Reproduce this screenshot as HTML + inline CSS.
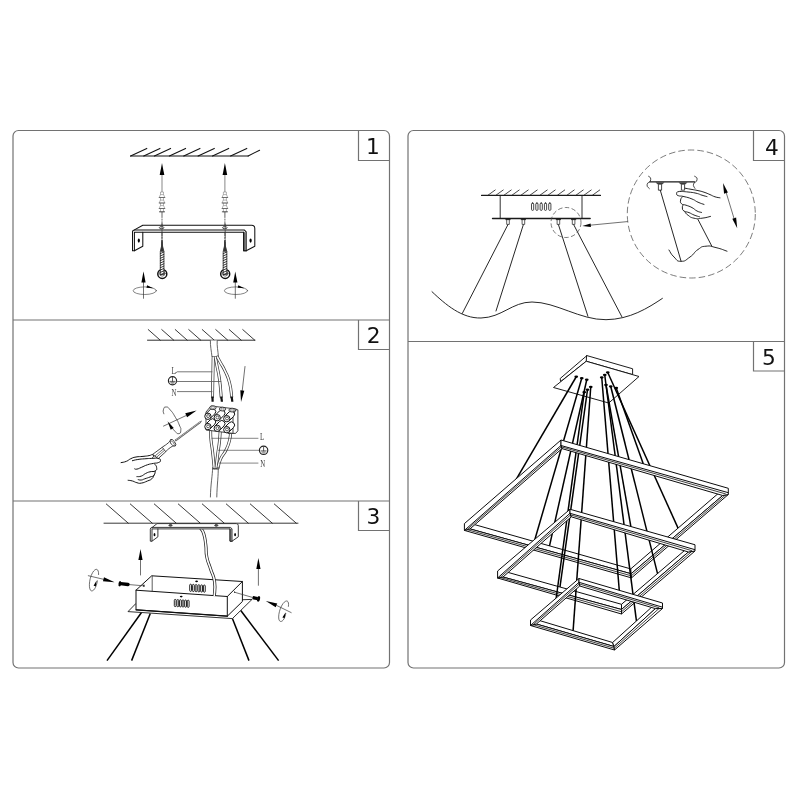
<!DOCTYPE html>
<html lang="en"><head><meta charset="utf-8"><title>Installation steps</title>
<style>
html,body{margin:0;padding:0;background:#fff;}
svg{display:block;}
.frame *{fill:none;stroke:#727272;stroke-width:1.2;}
text{filter:grayscale(1);}
.num{font-family:"DejaVu Sans","Liberation Sans",sans-serif;font-size:21.7px;text-anchor:middle;fill:#111;}
.lbl{font-family:"Liberation Serif","DejaVu Serif",serif;font-size:11.4px;fill:#444;}
.l{fill:none;stroke:#1a1a1a;stroke-width:0.9;stroke-linecap:round;stroke-linejoin:round;}
.t{fill:none;stroke:#333;stroke-width:0.6;stroke-linecap:round;stroke-linejoin:round;}
.h{fill:none;stroke:#111;stroke-width:0.8;}
.k{fill:none;stroke:#000;stroke-width:1.5;stroke-linecap:round;stroke-linejoin:round;}
.w{fill:#fff;stroke:#1a1a1a;stroke-width:0.9;stroke-linejoin:round;}
.wt{fill:#fff;stroke:#0c0c0c;stroke-width:1;stroke-linejoin:round;}
.fill{fill:#000;stroke:none;}
.dash{fill:none;stroke:#444;stroke-width:0.7;stroke-dasharray:5 2.5;}
</style></head>
<body>
<svg width="800" height="800" viewBox="0 0 800 800">
<rect x="0" y="0" width="800" height="800" fill="#fff"/>
<g id="frame">
<g class="frame">
<rect x="13" y="130.5" width="376.5" height="537.5" rx="5.5" ry="5.5"/>
<rect x="408" y="130.5" width="376.5" height="537.5" rx="5.5" ry="5.5"/>
<line x1="13" y1="320" x2="389.5" y2="320"/>
<line x1="13" y1="501" x2="389.5" y2="501"/>
<line x1="408" y1="341.5" x2="784.5" y2="341.5"/>
<path d="M358.5 130.5 L358.5 160.5 L389.5 160.5"/>
<path d="M358.5 320 L358.5 349.5 L389.5 349.5"/>
<path d="M358.5 501 L358.5 530.5 L389.5 530.5"/>
<path d="M753.5 130.5 L753.5 160.5 L784.5 160.5"/>
<path d="M753.5 341.5 L753.5 371 L784.5 371"/>
</g>
<text class="num" x="373" y="154.2">1</text>
<text class="num" x="373.7" y="343.2">2</text>
<text class="num" x="373.3" y="524.2">3</text>
<text class="num" x="771.9" y="154.5">4</text>
<text class="num" x="768.8" y="364.8">5</text>
</g>
<g id="p1">
<line x1="130.6" y1="156" x2="248.2" y2="156" class="l" style="stroke-width:1.15;stroke:#111"/>
<line x1="130.6" y1="156" x2="146.8" y2="148.4" class="l" style="stroke-width:1.05;stroke:#111"/>
<line x1="143.75" y1="156" x2="159.95" y2="148.4" class="l" style="stroke-width:1.05;stroke:#111"/>
<line x1="154.4" y1="156" x2="170.6" y2="148.4" class="l" style="stroke-width:1.05;stroke:#111"/>
<line x1="169.4" y1="156" x2="185.6" y2="148.4" class="l" style="stroke-width:1.05;stroke:#111"/>
<line x1="183.75" y1="156" x2="199.95" y2="148.4" class="l" style="stroke-width:1.05;stroke:#111"/>
<line x1="198.1" y1="156" x2="214.3" y2="148.4" class="l" style="stroke-width:1.05;stroke:#111"/>
<line x1="212.5" y1="156" x2="228.7" y2="148.4" class="l" style="stroke-width:1.05;stroke:#111"/>
<line x1="230.6" y1="156" x2="246.8" y2="148.4" class="l" style="stroke-width:1.05;stroke:#111"/>
<line x1="248.1" y1="156" x2="259.6" y2="150.2" class="l" style="stroke-width:1.05;stroke:#111"/>
<line x1="162" y1="175" x2="162" y2="192" class="t" style="stroke:#555;stroke-width:.7"/>
<path d="M162 163 L164.3 175 L162 175 L159.7 175Z" class="fill"/>
<line x1="162" y1="212.5" x2="162" y2="247" class="t" style="stroke:#333;stroke-width:.75;stroke-dasharray:5 1.5 1.2 1.5"/>
<line x1="224.9" y1="175" x2="224.9" y2="192" class="t" style="stroke:#555;stroke-width:.7"/>
<path d="M224.9 163 L227.2 175 L224.9 175 L222.6 175Z" class="fill"/>
<line x1="224.9" y1="212.5" x2="224.9" y2="247" class="t" style="stroke:#333;stroke-width:.75;stroke-dasharray:5 1.5 1.2 1.5"/>
<path d="M134.4 229.9 L142.8 225.3 L251.6 225.3 Q254.8 225.3 254.8 228.4 L254.8 246.3 L246.2 250.7 L243.7 250.7 L243.7 232.3 L135 232.3 L134.4 232.3 L134.4 250.7 L132.5 250.7 L132.5 232 Q132.5 229.9 134.4 229.9 Z" class="w" style="stroke:#111;stroke-width:1.05"/>
<path d="M134.4 229.9 L244.2 229.9 L246.2 231.8 L246.2 250.7" class="l" style="stroke:#111;stroke-width:1.05"/>
<path d="M243.7 232.3 L246.2 232.3 L246.2 250.7 L243.7 250.7Z" class="fill" style="fill:#777"/>
<path d="M243.7 232.3 L243.7 250.7 L246.2 250.7" class="l" style="stroke:#111;stroke-width:1.05"/>
<path d="M134.4 250.7 L142.8 246.3 L142.8 232.3" class="l" style="stroke:#111;stroke-width:1.05"/>
<ellipse cx="138.8" cy="240.6" rx="1.1" ry="2.1" class="fill"/>
<ellipse cx="250.6" cy="240.6" rx="1.1" ry="2.1" class="fill"/>
<ellipse cx="161.6" cy="227.7" rx="2.3" ry="1.1" class="w" style="stroke:#222;stroke-width:.8"/>
<line x1="162" y1="224" x2="162" y2="247" class="t" style="stroke:#333;stroke-width:.75;stroke-dasharray:5 1.5 1.2 1.5"/>
<ellipse cx="224.8" cy="227.7" rx="2.3" ry="1.1" class="w" style="stroke:#222;stroke-width:.8"/>
<line x1="225.2" y1="224" x2="225.2" y2="247" class="t" style="stroke:#333;stroke-width:.75;stroke-dasharray:5 1.5 1.2 1.5"/>
<rect x="160.5" y="192" width="3" height="20" class="w" style="stroke:#777;stroke-width:.55"/>
<path d="M160.4 194.6 L163.6 194.6 L164.8 197.5 L159.2 197.5Z" class="w" style="stroke:#777;stroke-width:.55"/>
<line x1="159.2" y1="197.5" x2="164.8" y2="197.5" class="l" style="stroke:#555;stroke-width:.75"/>
<path d="M160.4 200.1 L163.6 200.1 L164.8 203 L159.2 203Z" class="w" style="stroke:#777;stroke-width:.55"/>
<line x1="159.2" y1="203" x2="164.8" y2="203" class="l" style="stroke:#555;stroke-width:.75"/>
<path d="M160.4 205.6 L163.6 205.6 L164.8 208.5 L159.2 208.5Z" class="w" style="stroke:#777;stroke-width:.55"/>
<line x1="159.2" y1="208.5" x2="164.8" y2="208.5" class="l" style="stroke:#555;stroke-width:.75"/>
<line x1="159.4" y1="211.8" x2="164.6" y2="211.8" class="l" style="stroke:#444;stroke-width:.9"/>
<circle cx="162.3" cy="273.9" r="4.5" class="w" style="stroke:#111;stroke-width:1.5"/>
<circle cx="162.3" cy="273.4" r="2.7" class="l" style="stroke:#333;stroke-width:.7"/>
<path d="M162 240.5 L162.5 246 L163.9 251.5 L163.9 274.5 L160.3 274.5 L160.3 251.5 L161.6 246Z" class="w" style="stroke:#222;stroke-width:.8"/>
<line x1="160.3" y1="253.6" x2="163.9" y2="252" class="l" style="stroke:#222;stroke-width:.9"/>
<line x1="160.3" y1="255.95" x2="163.9" y2="254.35" class="l" style="stroke:#222;stroke-width:.9"/>
<line x1="160.3" y1="258.3" x2="163.9" y2="256.7" class="l" style="stroke:#222;stroke-width:.9"/>
<line x1="160.3" y1="260.65" x2="163.9" y2="259.05" class="l" style="stroke:#222;stroke-width:.9"/>
<line x1="160.3" y1="263" x2="163.9" y2="261.4" class="l" style="stroke:#222;stroke-width:.9"/>
<line x1="160.3" y1="265.35" x2="163.9" y2="263.75" class="l" style="stroke:#222;stroke-width:.9"/>
<line x1="160.3" y1="267.7" x2="163.9" y2="266.1" class="l" style="stroke:#222;stroke-width:.9"/>
<line x1="160.3" y1="270.05" x2="163.9" y2="268.45" class="l" style="stroke:#222;stroke-width:.9"/>
<line x1="160.3" y1="272.4" x2="163.9" y2="270.8" class="l" style="stroke:#222;stroke-width:.9"/>
<line x1="160.3" y1="274.75" x2="163.9" y2="273.15" class="l" style="stroke:#222;stroke-width:.9"/>
<path d="M162 240 L162.7 246 L163.9 251.8 L160.3 251.8 L161.4 246Z" class="fill" style="fill:#333"/>
<rect x="223.4" y="192" width="3" height="20" class="w" style="stroke:#777;stroke-width:.55"/>
<path d="M223.3 194.6 L226.5 194.6 L227.7 197.5 L222.1 197.5Z" class="w" style="stroke:#777;stroke-width:.55"/>
<line x1="222.1" y1="197.5" x2="227.7" y2="197.5" class="l" style="stroke:#555;stroke-width:.75"/>
<path d="M223.3 200.1 L226.5 200.1 L227.7 203 L222.1 203Z" class="w" style="stroke:#777;stroke-width:.55"/>
<line x1="222.1" y1="203" x2="227.7" y2="203" class="l" style="stroke:#555;stroke-width:.75"/>
<path d="M223.3 205.6 L226.5 205.6 L227.7 208.5 L222.1 208.5Z" class="w" style="stroke:#777;stroke-width:.55"/>
<line x1="222.1" y1="208.5" x2="227.7" y2="208.5" class="l" style="stroke:#555;stroke-width:.75"/>
<line x1="222.3" y1="211.8" x2="227.5" y2="211.8" class="l" style="stroke:#444;stroke-width:.9"/>
<circle cx="225.2" cy="273.9" r="4.5" class="w" style="stroke:#111;stroke-width:1.5"/>
<circle cx="225.2" cy="273.4" r="2.7" class="l" style="stroke:#333;stroke-width:.7"/>
<path d="M224.9 240.5 L225.4 246 L226.8 251.5 L226.8 274.5 L223.2 274.5 L223.2 251.5 L224.5 246Z" class="w" style="stroke:#222;stroke-width:.8"/>
<line x1="223.2" y1="253.6" x2="226.8" y2="252" class="l" style="stroke:#222;stroke-width:.9"/>
<line x1="223.2" y1="255.95" x2="226.8" y2="254.35" class="l" style="stroke:#222;stroke-width:.9"/>
<line x1="223.2" y1="258.3" x2="226.8" y2="256.7" class="l" style="stroke:#222;stroke-width:.9"/>
<line x1="223.2" y1="260.65" x2="226.8" y2="259.05" class="l" style="stroke:#222;stroke-width:.9"/>
<line x1="223.2" y1="263" x2="226.8" y2="261.4" class="l" style="stroke:#222;stroke-width:.9"/>
<line x1="223.2" y1="265.35" x2="226.8" y2="263.75" class="l" style="stroke:#222;stroke-width:.9"/>
<line x1="223.2" y1="267.7" x2="226.8" y2="266.1" class="l" style="stroke:#222;stroke-width:.9"/>
<line x1="223.2" y1="270.05" x2="226.8" y2="268.45" class="l" style="stroke:#222;stroke-width:.9"/>
<line x1="223.2" y1="272.4" x2="226.8" y2="270.8" class="l" style="stroke:#222;stroke-width:.9"/>
<line x1="223.2" y1="274.75" x2="226.8" y2="273.15" class="l" style="stroke:#222;stroke-width:.9"/>
<path d="M224.9 240 L225.6 246 L226.8 251.8 L223.2 251.8 L224.3 246Z" class="fill" style="fill:#333"/>
<ellipse cx="144.8" cy="290.7" rx="11.6" ry="3.8" class="t" style="stroke:#444;stroke-width:.65"/>
<line x1="143.5" y1="282" x2="143.5" y2="298.3" class="t" style="stroke:#333;stroke-width:.7"/>
<path d="M143.5 271.6 L145.6 282.4 L143.5 282.4 L141.4 282.4Z" class="fill"/>
<path d="M153.2 288.2 L146.48 287.86 L146.8 286.6 L147.11 285.34Z" class="fill"/>
<ellipse cx="236" cy="290.7" rx="11.6" ry="3.8" class="t" style="stroke:#444;stroke-width:.65"/>
<line x1="235.3" y1="282" x2="235.3" y2="298.3" class="t" style="stroke:#333;stroke-width:.7"/>
<path d="M235.3 271.6 L237.4 282.4 L235.3 282.4 L233.2 282.4Z" class="fill"/>
<path d="M244.4 288.2 L237.68 287.86 L238 286.6 L238.31 285.34Z" class="fill"/>
</g>
<g id="p2">
<line x1="147.5" y1="340.2" x2="255" y2="340.2" class="l" style="stroke-width:.95;stroke:#222"/>
<line x1="148.25" y1="329.6" x2="160.25" y2="340.2" class="l" style="stroke-width:.9;stroke:#222"/>
<line x1="161.75" y1="329.6" x2="173.75" y2="340.2" class="l" style="stroke-width:.9;stroke:#222"/>
<line x1="175.25" y1="329.6" x2="187.25" y2="340.2" class="l" style="stroke-width:.9;stroke:#222"/>
<line x1="188.75" y1="329.6" x2="200.75" y2="340.2" class="l" style="stroke-width:.9;stroke:#222"/>
<line x1="202.25" y1="329.6" x2="214.25" y2="340.2" class="l" style="stroke-width:.9;stroke:#222"/>
<line x1="215.75" y1="329.6" x2="227.75" y2="340.2" class="l" style="stroke-width:.9;stroke:#222"/>
<line x1="229.25" y1="329.6" x2="241.25" y2="340.2" class="l" style="stroke-width:.9;stroke:#222"/>
<line x1="242.75" y1="329.6" x2="254.75" y2="340.2" class="l" style="stroke-width:.9;stroke:#222"/>
<path d="M210.4 340.4 C210.2 346 211.4 351 212 357 C214 358.2 216.6 357.8 218.4 356.4 C218 351 216.8 346 217.2 340.4" class="w" style="stroke:#333;stroke-width:.75"/>
<path d="M213.2 357.4 C213.14 361.18 213.15 361.72 213 370 C212.85 378.28 212.85 376.9 212.7 385 C212.55 393.1 212.56 393.4 212.5 397" class="l" style="stroke:#333;stroke-width:3.0"/>
<path d="M213.2 357.4 C213.14 361.18 213.15 361.72 213 370 C212.85 378.28 212.85 376.9 212.7 385 C212.55 393.1 212.56 393.4 212.5 397" class="l" style="stroke:#fff;stroke-width:1.6"/>
<path d="M215.4 357.4 C215.88 359.98 215.74 359.22 217 366 C218.26 372.78 218.34 370.7 219.6 380 C220.86 389.3 220.72 391.9 221.2 397" class="l" style="stroke:#333;stroke-width:3.0"/>
<path d="M215.4 357.4 C215.88 359.98 215.74 359.22 217 366 C218.26 372.78 218.34 370.7 219.6 380 C220.86 389.3 220.72 391.9 221.2 397" class="l" style="stroke:#fff;stroke-width:1.6"/>
<path d="M217.4 357 C218.36 358.8 218.32 358.8 220.6 363 C222.88 367.2 222.3 365 225 371 C227.7 377 227.59 375.2 229.6 383 C231.61 390.8 231.07 392.8 231.7 397" class="l" style="stroke:#333;stroke-width:3.0"/>
<path d="M217.4 357 C218.36 358.8 218.32 358.8 220.6 363 C222.88 367.2 222.3 365 225 371 C227.7 377 227.59 375.2 229.6 383 C231.61 390.8 231.07 392.8 231.7 397" class="l" style="stroke:#fff;stroke-width:1.6"/>
<path d="M211.4 396.6 L213.6 396.6 L213.7 401.8 L211.5 401.8Z" class="fill" style="fill:#111"/>
<path d="M220.2 396.6 L222.4 396.6 L223 401.8 L220.8 401.8Z" class="fill" style="fill:#111"/>
<path d="M230.6 396.6 L232.8 396.6 L233.4 401.8 L231.2 401.8Z" class="fill" style="fill:#111"/>
<text class="lbl" transform="translate(171.6 373.8) scale(.6 1)">L</text>
<path d="M175.2 373.4 L177.2 371.8 L212 371.8" class="t" style="stroke:#555;stroke-width:.8"/>
<circle cx="172.5" cy="380.8" r="4.1" class="w" style="stroke:#222;stroke-width:1.15"/>
<line x1="172.5" y1="377.5" x2="172.5" y2="381.4" class="l" style="stroke:#333;stroke-width:.8"/>
<line x1="169.9" y1="381.4" x2="175.1" y2="381.4" class="l" style="stroke:#333;stroke-width:.8"/>
<line x1="170.8" y1="382.6" x2="174.2" y2="382.6" class="l" style="stroke:#333;stroke-width:.6"/>
<line x1="171.7" y1="383.7" x2="173.3" y2="383.7" class="l" style="stroke:#333;stroke-width:.5"/>
<line x1="176.6" y1="381.5" x2="220.8" y2="381.5" class="t" style="stroke:#555;stroke-width:.8"/>
<text class="lbl" transform="translate(171.4 395.5) scale(.6 1)">N</text>
<line x1="177.4" y1="391.6" x2="212" y2="391.6" class="t" style="stroke:#555;stroke-width:.8"/>
<line x1="245" y1="366.5" x2="242.2" y2="391" class="t" style="stroke:#333;stroke-width:.7"/>
<path d="M241 402 L240.33 390.35 L242.31 390.58 L244.3 390.8Z" class="fill"/>
<path d="M210.6 431 C210.72 433.7 210.4 433.7 211 440 C211.6 446.3 211.64 443.6 212.6 452 C213.56 460.4 213.72 463.2 214.2 468" class="l" style="stroke:#333;stroke-width:3.0"/>
<path d="M210.6 431 C210.72 433.7 210.4 433.7 211 440 C211.6 446.3 211.64 443.6 212.6 452 C213.56 460.4 213.72 463.2 214.2 468" class="l" style="stroke:#fff;stroke-width:1.6"/>
<path d="M220.2 431 C219.96 434.3 220.18 434.8 219.4 442 C218.62 449.2 218.56 447.2 217.6 455 C216.64 462.8 216.62 464.1 216.2 468" class="l" style="stroke:#333;stroke-width:3.0"/>
<path d="M220.2 431 C219.96 434.3 220.18 434.8 219.4 442 C218.62 449.2 218.56 447.2 217.6 455 C216.64 462.8 216.62 464.1 216.2 468" class="l" style="stroke:#fff;stroke-width:1.6"/>
<path d="M230.6 431 C230.3 433.7 230.98 434.3 229.6 440 C228.22 445.7 228.7 444.3 226 450 C223.3 455.7 223 453.6 220.6 459 C218.2 464.4 218.78 465.3 218 468" class="l" style="stroke:#333;stroke-width:3.0"/>
<path d="M230.6 431 C230.3 433.7 230.98 434.3 229.6 440 C228.22 445.7 228.7 444.3 226 450 C223.3 455.7 223 453.6 220.6 459 C218.2 464.4 218.78 465.3 218 468" class="l" style="stroke:#fff;stroke-width:1.6"/>
<path d="M212.6 468 C212.6 475 210.6 484 210.4 497 M218.2 467.4 C218.6 475 217 484 216.8 497" class="l" style="stroke:#333;stroke-width:.75"/>
<path d="M212.6 468 C214 469.4 217 469 218.2 467.4" class="l" style="stroke:#333;stroke-width:.75"/>
<path d="M233.6 409.6 L237.9 409.8 L237.9 430.8 L235.6 433.4 L228 433.4 L228 415Z" class="w" style="stroke:#222;stroke-width:.85"/>
<path d="M206 412 L211 406 L236.4 409 L233 415 L233 433.4 L206 430Z" class="w" style="stroke:#222;stroke-width:.85"/>
<path d="M205.67 424.37 L210.27 419.77 A3.15 3.15 0 0 1 214.73 424.23 L210.13 428.83 Z" class="w" style="stroke:#111;stroke-width:1"/>
<circle cx="207.9" cy="426.6" r="3.15" class="w" style="stroke:#111;stroke-width:1"/>
<circle cx="208.1" cy="426.4" r="1.45" class="w" style="stroke:#333;stroke-width:.8"/>
<path d="M214.97 426.07 L219.57 421.47 A3.15 3.15 0 0 1 224.03 425.93 L219.43 430.53 Z" class="w" style="stroke:#111;stroke-width:1"/>
<circle cx="217.2" cy="428.3" r="3.15" class="w" style="stroke:#111;stroke-width:1"/>
<circle cx="217.4" cy="428.1" r="1.45" class="w" style="stroke:#333;stroke-width:.8"/>
<path d="M224.57 427.47 L229.17 422.87 A3.15 3.15 0 0 1 233.63 427.33 L229.03 431.93 Z" class="w" style="stroke:#111;stroke-width:1"/>
<circle cx="226.8" cy="429.7" r="3.15" class="w" style="stroke:#111;stroke-width:1"/>
<circle cx="227" cy="429.5" r="1.45" class="w" style="stroke:#333;stroke-width:.8"/>
<path d="M205.67 414.07 L210.27 409.47 A3.15 3.15 0 0 1 214.73 413.93 L210.13 418.53 Z" class="w" style="stroke:#111;stroke-width:1"/>
<circle cx="207.9" cy="416.3" r="3.15" class="w" style="stroke:#111;stroke-width:1"/>
<circle cx="208.1" cy="416.1" r="1.45" class="w" style="stroke:#333;stroke-width:.8"/>
<path d="M214.97 415.47 L219.57 410.87 A3.15 3.15 0 0 1 224.03 415.33 L219.43 419.93 Z" class="w" style="stroke:#111;stroke-width:1"/>
<circle cx="217.2" cy="417.7" r="3.15" class="w" style="stroke:#111;stroke-width:1"/>
<circle cx="217.4" cy="417.5" r="1.45" class="w" style="stroke:#333;stroke-width:.8"/>
<path d="M224.57 416.47 L229.17 411.87 A3.15 3.15 0 0 1 233.63 416.33 L229.03 420.93 Z" class="w" style="stroke:#111;stroke-width:1"/>
<circle cx="226.8" cy="418.7" r="3.15" class="w" style="stroke:#111;stroke-width:1"/>
<circle cx="227" cy="418.5" r="1.45" class="w" style="stroke:#333;stroke-width:.8"/>
<ellipse cx="212.9" cy="407.7" rx="3.2" ry="1.9" class="w" style="stroke:#222;stroke-width:.85"/>
<ellipse cx="212.9" cy="407.7" rx="1.9" ry="1" class="w" style="stroke:#555;stroke-width:.6"/>
<ellipse cx="222.5" cy="409.1" rx="3.2" ry="1.9" class="w" style="stroke:#222;stroke-width:.85"/>
<ellipse cx="222.5" cy="409.1" rx="1.9" ry="1" class="w" style="stroke:#555;stroke-width:.6"/>
<ellipse cx="232.1" cy="410.1" rx="3.2" ry="1.9" class="w" style="stroke:#222;stroke-width:.85"/>
<ellipse cx="232.1" cy="410.1" rx="1.9" ry="1" class="w" style="stroke:#555;stroke-width:.6"/>
<line x1="212" y1="438.3" x2="258" y2="438.3" class="t" style="stroke:#444;stroke-width:.65"/>
<text class="lbl" transform="translate(260 440.2) scale(.6 1)">L</text>
<line x1="218.4" y1="450.3" x2="259.4" y2="450.3" class="t" style="stroke:#444;stroke-width:.65"/>
<circle cx="263.6" cy="450.3" r="4.2" class="w" style="stroke:#222;stroke-width:1.15"/>
<line x1="263.6" y1="446.9" x2="263.6" y2="450.9" class="l" style="stroke:#333;stroke-width:.8"/>
<line x1="261" y1="450.9" x2="266.2" y2="450.9" class="l" style="stroke:#333;stroke-width:.8"/>
<line x1="261.9" y1="452.1" x2="265.3" y2="452.1" class="l" style="stroke:#333;stroke-width:.6"/>
<line x1="262.8" y1="453.2" x2="264.4" y2="453.2" class="l" style="stroke:#333;stroke-width:.5"/>
<line x1="219.4" y1="463.1" x2="258" y2="463.1" class="t" style="stroke:#444;stroke-width:.65"/>
<text class="lbl" transform="translate(260.2 467.4) scale(.6 1)">N</text>
<path d="M163.9 413.8 C163.73 412.47 162.67 412.07 163.4 409.8 C164.13 407.53 163.8 406.93 166.1 407 C168.4 407.07 167.17 406.5 170.3 410 C173.43 413.5 172.5 412.5 175.5 417.5 C178.5 422.5 177.53 420.73 179.3 425 C181.07 429.27 180.93 427.43 180.8 430.3 C180.67 433.17 180.67 433.1 178.9 433.6 C177.13 434.1 177.6 433.53 175.5 431.8 C173.4 430.07 173.57 429.53 172.6 428.4" class="t" style="stroke:#333;stroke-width:.75"/>
<line x1="163.5" y1="426.1" x2="186.2" y2="415.5" class="t" style="stroke:#333;stroke-width:.7"/>
<path d="M196.6 410.4 L187.07 417.2 L186.15 415.21 L185.23 413.21Z" class="fill"/>
<path d="M167.5 421.2 L173.77 427.9 L172.24 428.85 L170.71 429.8Z" class="fill"/>
<path d="M202.2 420.5 L199.6 421.4 L174.6 439.9 L175.8 441.5 L200.6 423Z" class="fill" style="fill:#555"/>
<line x1="200" y1="422.1" x2="175.4" y2="440.5" class="l" style="stroke:#e8e8e8;stroke-width:.7;stroke-dasharray:1.2 1"/>
<path d="M169.6 441.6 C167.6 443.6 166 444.8 164 446 C163 446.6 162.6 447 162.2 447.3 L152.6 454.4 L158.2 458.6 L165.8 451.7 C166.4 451 167 450 168.4 449 C170 447.8 171.6 446.6 173.4 445.6 Z" class="w" style="stroke:#222;stroke-width:.85"/>
<line x1="163.6" y1="448.8" x2="155" y2="455.9" class="t" style="stroke:#333;stroke-width:.7"/>
<line x1="164.6" y1="450.2" x2="156.6" y2="457.2" class="t" style="stroke:#333;stroke-width:.7"/>
<line x1="162.2" y1="447.3" x2="165.8" y2="451.7" class="t" style="stroke:#333;stroke-width:.7"/>
<ellipse cx="172.9" cy="442.8" rx="1.9" ry="4" transform="rotate(-37 172.9 442.8)" class="w" style="stroke:#222;stroke-width:.85"/>
<ellipse cx="172.3" cy="443.3" rx="1.2" ry="3" transform="rotate(-37 172.3 443.3)" class="w" style="stroke:#333;stroke-width:.6"/>
<path d="M121.1 462.6 C122.69 462.21 123.49 462.47 126.4 461.3 C129.31 460.13 127.92 459.99 130.8 458.7 C133.68 457.41 132.34 457.69 136 457 C139.66 456.31 139.07 456.82 143 456.4 C146.93 455.98 146.34 456.11 149.1 455.6 C151.86 455.09 150.85 454.58 152.2 454.7 C153.55 454.82 153.6 455.04 153.6 456 C153.6 456.96 152.62 457.33 152.2 457.9" class="l" style="stroke:#111;stroke-width:1"/>
<path d="M132 460.8 C133.74 460.41 133.96 460.1 137.8 459.5 C141.64 458.9 140.6 459.13 144.8 458.8 C149 458.47 147.87 458.52 151.8 458.4 C155.73 458.28 155.29 457.8 157.9 458.4 C160.51 459 160.38 459.14 160.5 460.4 C160.62 461.66 160.4 461.7 158.3 462.6 C156.2 463.5 156.77 462.74 153.5 463.4 C150.23 464.06 151.06 463.6 147.4 464.8 C143.74 466 144.45 466.11 141.3 467.4 C138.15 468.69 139 468.71 136.9 469.1 C134.8 469.49 135.08 468.82 134.3 468.7" class="w" style="stroke:#111;stroke-width:1;fill:#fff"/>
<path d="M154.8 464.3 C155.34 465.23 156.45 465.42 156.6 467.4 C156.75 469.38 157.28 469.58 155.3 470.9 C153.32 472.22 152.91 471.02 150 471.8 C147.09 472.58 148.21 472.21 145.6 473.5 C142.99 474.79 143.91 475.17 141.3 476.1 C138.69 477.03 138.22 476.45 136.9 476.6" class="l" style="stroke:#111;stroke-width:1"/>
<path d="M155.3 470.9 C154.88 472.22 155.49 473.47 153.9 475.3 C152.31 477.13 152.73 475.95 150 477 C147.27 478.05 147.41 477.9 144.8 478.8 C142.19 479.7 143.28 479.76 141.3 480 C139.32 480.24 139.13 479.72 138.2 479.6" class="l" style="stroke:#111;stroke-width:1"/>
<path d="M153.9 475.3 C153.27 476.35 153.75 477.09 151.8 478.8 C149.85 480.51 150.55 479.71 147.4 481 C144.25 482.29 144.45 482.59 141.3 483.1 C138.15 483.61 139.54 483.33 136.9 482.7 C134.26 482.07 135.14 481.72 132.5 481 C129.86 480.28 129.42 480.51 128.1 480.3" class="l" style="stroke:#111;stroke-width:1"/>
</g>
<g id="p3">
<line x1="104" y1="523.2" x2="298" y2="523.2" class="l" style="stroke-width:.9;stroke:#222"/>
<line x1="106.3" y1="504" x2="128.3" y2="523.2" class="l" style="stroke-width:.9;stroke:#222"/>
<line x1="130.3" y1="504" x2="152.3" y2="523.2" class="l" style="stroke-width:.9;stroke:#222"/>
<line x1="154.3" y1="504" x2="176.3" y2="523.2" class="l" style="stroke-width:.9;stroke:#222"/>
<line x1="178.3" y1="504" x2="200.3" y2="523.2" class="l" style="stroke-width:.9;stroke:#222"/>
<line x1="202.3" y1="504" x2="224.3" y2="523.2" class="l" style="stroke-width:.9;stroke:#222"/>
<line x1="226.3" y1="504" x2="248.3" y2="523.2" class="l" style="stroke-width:.9;stroke:#222"/>
<line x1="250.3" y1="504" x2="272.3" y2="523.2" class="l" style="stroke-width:.9;stroke:#222"/>
<line x1="274.3" y1="504" x2="296.3" y2="523.2" class="l" style="stroke-width:.9;stroke:#222"/>
<line x1="141.5" y1="612.5" x2="107" y2="660.6" class="k" style="stroke-width:1.5;stroke-linecap:butt"/>
<line x1="150.3" y1="613.5" x2="131.6" y2="660.6" class="k" style="stroke-width:1.5;stroke-linecap:butt"/>
<line x1="232.4" y1="618.5" x2="249" y2="660.6" class="k" style="stroke-width:1.5;stroke-linecap:butt"/>
<line x1="240.8" y1="610.5" x2="278.6" y2="660.6" class="k" style="stroke-width:1.5;stroke-linecap:butt"/>
<path d="M128 611.6 L136 603.4 L252 599.4 L232.4 618.6Z" class="w" style="stroke-width:.9"/>
<path d="M151.7 575.8 L242.4 581.5 L242.4 601.5 L227.3 616.2 L136 609.8 L136 590.2Z" class="w" style="stroke:#111;stroke-width:1"/>
<path d="M136 590.2 L227.3 596.5 L242.4 581.5" class="l" style="stroke:#111;stroke-width:1"/>
<line x1="227.3" y1="596.5" x2="227.3" y2="616.2" class="l" style="stroke:#111;stroke-width:1"/>
<line x1="152.2" y1="576.2" x2="152.2" y2="591.2" class="l" style="stroke:#333;stroke-width:.8"/>
<path d="M136 609.8 L227.3 616.2" class="l" style="stroke:#111;stroke-width:1.2"/>
<rect x="189.7" y="584.2" width="1.8" height="7.2" rx=".9" class="w" style="stroke:#111;stroke-width:.9"/>
<rect x="192.45" y="584.37" width="1.8" height="7.2" rx=".9" class="w" style="stroke:#111;stroke-width:.9"/>
<rect x="195.2" y="584.53" width="1.8" height="7.2" rx=".9" class="w" style="stroke:#111;stroke-width:.9"/>
<rect x="197.95" y="584.7" width="1.8" height="7.2" rx=".9" class="w" style="stroke:#111;stroke-width:.9"/>
<rect x="200.7" y="584.86" width="1.8" height="7.2" rx=".9" class="w" style="stroke:#111;stroke-width:.9"/>
<rect x="203.45" y="585.03" width="1.8" height="7.2" rx=".9" class="w" style="stroke:#111;stroke-width:.9"/>
<ellipse cx="196.6" cy="581.4" rx="1.4" ry="0.8" class="fill"/>
<rect x="174.3" y="599.4" width="1.8" height="7.2" rx=".9" class="w" style="stroke:#111;stroke-width:.9"/>
<rect x="176.9" y="599.56" width="1.8" height="7.2" rx=".9" class="w" style="stroke:#111;stroke-width:.9"/>
<rect x="179.5" y="599.71" width="1.8" height="7.2" rx=".9" class="w" style="stroke:#111;stroke-width:.9"/>
<rect x="182.1" y="599.87" width="1.8" height="7.2" rx=".9" class="w" style="stroke:#111;stroke-width:.9"/>
<rect x="184.7" y="600.02" width="1.8" height="7.2" rx=".9" class="w" style="stroke:#111;stroke-width:.9"/>
<rect x="187.3" y="600.18" width="1.8" height="7.2" rx=".9" class="w" style="stroke:#111;stroke-width:.9"/>
<ellipse cx="181.2" cy="596.6" rx="1.4" ry="0.8" class="fill"/>
<ellipse cx="143.9" cy="585.7" rx="0.7" ry="1.2" class="fill"/>
<ellipse cx="234.6" cy="592.2" rx="0.6" ry="0.9" class="fill" style="fill:#444"/>
<path d="M200.8 528.6 C201.7 530.22 202.3 529.08 203.8 534 C205.3 538.92 204.9 538.1 205.8 545 C206.7 551.9 205.36 549.8 206.8 557 C208.24 564.2 208.26 561.5 210.6 569 C212.94 576.5 213.49 573.9 214.6 582 C215.71 590.1 214.39 591.8 214.3 596" class="l" style="stroke:#222;stroke-width:3.1;stroke-linecap:butt"/>
<path d="M200.8 528.4 C201.7 530.08 202.3 529.02 203.8 534 C205.3 538.98 204.9 538.1 205.8 545 C206.7 551.9 205.36 549.8 206.8 557 C208.24 564.2 208.26 561.5 210.6 569 C212.94 576.5 213.49 574.08 214.6 582 C215.71 589.92 214.39 591.38 214.3 595.4" class="l" style="stroke:#fff;stroke-width:1.6"/>
<path d="M152 527.6 L157 523.6 L236.3 523.6 Q238.3 523.6 238.3 525.6 L238.3 536.8 L232 541.2 L230 541.2 L230 528.9 L152 528.9 L152 541.2 L150.3 541.2 L150.3 529.3 Q150.3 527.6 152 527.6 Z" class="w" style="stroke:#222;stroke-width:.9"/>
<path d="M152 527.4 L230.4 527.4 L232 528.8 L232 541.2" class="l" style="stroke:#222;stroke-width:.9"/>
<path d="M230 528.9 L232 528.9 L232 541.2 L230 541.2Z" class="fill" style="fill:#777"/>
<path d="M230 528.9 L230 541.2 L232 541.2" class="l" style="stroke:#222;stroke-width:.9"/>
<path d="M152 541.2 L157.9 536.8 L157.9 528.9" class="l" style="stroke:#222;stroke-width:.9"/>
<ellipse cx="154.5" cy="534.7" rx="0.9" ry="1.6" class="fill"/>
<ellipse cx="235.1" cy="534.7" rx="0.9" ry="1.6" class="fill"/>
<ellipse cx="170.5" cy="525.4" rx="1.6" ry="0.8" class="w" style="stroke:#222;stroke-width:.8;fill:#666"/>
<ellipse cx="216.3" cy="525.4" rx="1.6" ry="0.8" class="w" style="stroke:#222;stroke-width:.8;fill:#666"/>
<line x1="140.5" y1="560" x2="140.5" y2="575" class="t" style="stroke-width:.7"/>
<path d="M140.5 549 L142.6 560 L140.5 560 L138.4 560Z" class="fill"/>
<line x1="258.4" y1="569" x2="258.4" y2="585.3" class="t" style="stroke-width:.7"/>
<path d="M258.4 558 L260.5 569 L258.4 569 L256.3 569Z" class="fill"/>
<line x1="88.3" y1="575.7" x2="103.5" y2="579.3" class="t" style="stroke-width:.7"/>
<path d="M114.6 582.2 L102.94 581.34 L103.47 579.31 L104 577.27Z" class="fill"/>
<line x1="127" y1="584.4" x2="143.5" y2="585.8" class="t" style="stroke-width:.7"/>
<line x1="120.6" y1="583.7" x2="128" y2="584.5" class="l" style="stroke:#000;stroke-width:3.3;stroke-linecap:round"/>
<ellipse cx="119.8" cy="583.7" rx="1.3" ry="2.7" transform="rotate(8 119.8 583.7)" class="fill"/>
<path d="M98.6 574.6 C98.9 568.2 95.6 567.6 92.6 572.6 C88.6 579.5 88.4 590.6 91.6 590.9 C94.6 591.2 97 584.6 97.4 580.8" class="t" style="stroke:#333;stroke-width:.7"/>
<path d="M96.6 580.4 L95.86 586.47 L94.72 586.1 L93.58 585.72Z" class="fill"/>
<line x1="234.8" y1="592.3" x2="252.4" y2="597.4" class="t" style="stroke-width:.7"/>
<line x1="252.6" y1="597.6" x2="257.6" y2="598.6" class="l" style="stroke:#000;stroke-width:3.3;stroke-linecap:butt"/>
<ellipse cx="258.6" cy="598.8" rx="1.5" ry="2.9" transform="rotate(12 258.6 598.8)" class="fill"/>
<path d="M265.8 601.1 L277.26 603.42 L276.48 605.37 L275.7 607.32Z" class="fill"/>
<line x1="276.5" y1="605.4" x2="291.2" y2="612.6" class="t" style="stroke-width:.7"/>
<path d="M288.4 606.4 C289.4 600.4 286.4 599.2 283 603.6 C278.6 609.6 277.2 620.6 280.4 621.4 C283 622 285.2 617.4 285.8 613.4" class="t" style="stroke:#333;stroke-width:.7"/>
<path d="M285.7 612.3 L284.59 618.32 L283.47 617.87 L282.36 617.43Z" class="fill"/>
</g>
<g id="p4">
<line x1="481.5" y1="195.4" x2="600.5" y2="195.4" class="l" style="stroke-width:1.1"/>
<line x1="488" y1="195.2" x2="495.2" y2="190" class="l" style="stroke-width:.8"/>
<line x1="496" y1="195.2" x2="503.2" y2="190" class="l" style="stroke-width:.8"/>
<line x1="504" y1="195.2" x2="511.2" y2="190" class="l" style="stroke-width:.8"/>
<line x1="512" y1="195.2" x2="519.2" y2="190" class="l" style="stroke-width:.8"/>
<line x1="521" y1="195.2" x2="528.2" y2="190" class="l" style="stroke-width:.8"/>
<line x1="530" y1="195.2" x2="537.2" y2="190" class="l" style="stroke-width:.8"/>
<line x1="540" y1="195.2" x2="547.2" y2="190" class="l" style="stroke-width:.8"/>
<line x1="548" y1="195.2" x2="555.2" y2="190" class="l" style="stroke-width:.8"/>
<line x1="557.5" y1="195.2" x2="564.7" y2="190" class="l" style="stroke-width:.8"/>
<line x1="567" y1="195.2" x2="574.2" y2="190" class="l" style="stroke-width:.8"/>
<line x1="576" y1="195.2" x2="583.2" y2="190" class="l" style="stroke-width:.8"/>
<line x1="584" y1="195.2" x2="591.2" y2="190" class="l" style="stroke-width:.8"/>
<line x1="592.5" y1="195.2" x2="599.7" y2="190" class="l" style="stroke-width:.8"/>
<path d="M500.2 195.4 L500.2 218.4" class="l"/>
<path d="M582 195.4 L582 218.4" class="l"/>
<line x1="492.5" y1="218.5" x2="590.2" y2="218.5" class="l" style="stroke-width:1.3"/>
<rect x="531.5" y="203" width="2.2" height="7.4" rx="1.1" class="l" style="stroke-width:.8"/>
<rect x="535.8" y="203" width="2.2" height="7.4" rx="1.1" class="l" style="stroke-width:.8"/>
<rect x="540.1" y="203" width="2.2" height="7.4" rx="1.1" class="l" style="stroke-width:.8"/>
<rect x="544.4" y="203" width="2.2" height="7.4" rx="1.1" class="l" style="stroke-width:.8"/>
<rect x="548.7" y="203" width="2.2" height="7.4" rx="1.1" class="l" style="stroke-width:.8"/>
<line x1="508" y1="224.5" x2="462.3" y2="313.4" class="l" style="stroke-width:.95"/>
<rect x="506.7" y="219.2" width="2.6" height="5.2" class="w" style="stroke-width:.7"/>
<line x1="505.8" y1="219.6" x2="510.2" y2="219.6" class="l" style="stroke-width:.9"/>
<line x1="523.4" y1="224.5" x2="496" y2="311" class="l" style="stroke-width:.95"/>
<rect x="522.1" y="219.2" width="2.6" height="5.2" class="w" style="stroke-width:.7"/>
<line x1="521.2" y1="219.6" x2="525.6" y2="219.6" class="l" style="stroke-width:.9"/>
<line x1="558.4" y1="224.5" x2="587.9" y2="316.2" class="l" style="stroke-width:.95"/>
<rect x="557.1" y="219.2" width="2.6" height="5.2" class="w" style="stroke-width:.7"/>
<line x1="556.2" y1="219.6" x2="560.6" y2="219.6" class="l" style="stroke-width:.9"/>
<line x1="573.6" y1="224.5" x2="622" y2="317" class="l" style="stroke-width:.95"/>
<rect x="572.3" y="219.2" width="2.6" height="5.2" class="w" style="stroke-width:.7"/>
<line x1="571.4" y1="219.6" x2="575.8" y2="219.6" class="l" style="stroke-width:.9"/>
<path d="M432 291.7 C446 305 462 318.5 481 318 C502 317.5 512 302 532 302 C556 302 580 320 606 319.7 C630 319.4 648 308 662.4 298.4" class="l" style="stroke-width:.95"/>
<circle cx="566" cy="222.5" r="15" class="dash" style="stroke-dasharray:4.5 2.4"/>
<line x1="627.5" y1="221.6" x2="589" y2="225.3" class="t" style="stroke-width:.7"/>
<path d="M582.3 226 L590.6 223.5 L590.76 225.2 L590.92 226.89Z" class="fill"/>
<circle cx="691.3" cy="214" r="64" class="dash" style="stroke-dasharray:6.5 3.1"/>
<line x1="650" y1="181.9" x2="694.5" y2="181.9" class="l" style="stroke-width:1.4"/>
<path d="M648.5 176.3 C648.85 176.58 650.32 177.13 650.6 178 C650.88 178.87 650.7 180.63 650.2 181.5 C649.7 182.37 648.1 182.42 647.6 183.2 C647.1 183.98 646.9 185.3 647.2 186.2 C647.5 187.1 649.03 188.2 649.4 188.6" class="l" style="stroke-width:.8"/>
<path d="M694.6 176.3 C695 176.58 696.68 177.17 697 178 C697.32 178.83 696.97 180.5 696.5 181.3 C696.03 182.1 694.72 182.08 694.2 182.8 C693.68 183.52 693.27 184.67 693.4 185.6 C693.53 186.53 694.73 187.93 695 188.4" class="l" style="stroke-width:.8"/>
<path d="M655.5 182.2 L664.5 182.2 L662.6 184.2 L657.4 184.2Z" class="fill" style="fill:#444"/>
<rect x="658.4" y="184.2" width="3.2" height="6" class="w" style="stroke-width:.8"/>
<path d="M678.5 182.2 L687.5 182.2 L685.6 184.2 L680.4 184.2Z" class="fill" style="fill:#444"/>
<rect x="681.4" y="184.2" width="3.2" height="6" class="w" style="stroke-width:.8"/>
<line x1="660.3" y1="190.3" x2="681" y2="261" class="l" style="stroke-width:.95"/>
<line x1="698" y1="219.5" x2="712" y2="246.5" class="l" style="stroke-width:.95"/>
<path d="M669 250 C670.5 252.1 670.4 253.61 674 257 C677.6 260.39 676.2 261.3 681 261.3 C685.8 261.3 684.9 260.54 690 257 C695.1 253.46 693.2 252.74 698 249.5 C702.8 246.26 700.6 246.77 706 246.2 C711.4 245.63 709.7 246.1 716 247.6 C722.3 249.1 723.7 250.12 727 251.2" class="l" style="stroke-width:.95"/>
<path d="M685 188.2 C686.8 188.53 687.1 188.58 691 189.3 C694.9 190.02 694.1 189.73 698 190.6 C701.9 191.47 700.4 191 704 192.2 C707.6 193.4 706.7 193.22 710 194.6 C713.3 195.98 712 195.84 715 196.8 C718 197.76 718.5 197.5 720 197.8" class="l" style="stroke-width:.95"/>
<path d="M680.5 191.4 C682.75 191.58 683.35 191.46 688 192 C692.65 192.54 691.8 192.24 696 193.2 C700.2 194.16 698.7 194.18 702 195.2 C705.3 196.22 705.5 196.18 707 196.6" class="l" style="stroke-width:.95"/>
<path d="M680.5 191.4 C679.63 191.55 678.77 191.24 677.6 191.9 C676.43 192.56 676.42 192.49 676.6 193.6 C676.78 194.71 675.98 194.7 678.2 195.6 C680.42 196.5 679.86 195.58 684 196.6 C688.14 197.62 687.8 197.32 692 199 C696.2 200.68 694.4 200.58 698 202.2 C701.6 203.82 702.2 203.74 704 204.4" class="l" style="stroke-width:.95"/>
<path d="M682.4 196.8 C681.86 197.76 680.84 197.9 680.6 200 C680.36 202.1 679.98 202.24 681.6 203.8 C683.22 205.36 682.88 204.06 686 205.2 C689.12 206.34 688.7 205.86 692 207.6 C695.3 209.34 694.15 209.56 697 211 C699.85 212.44 700.15 211.98 701.5 212.4" class="l" style="stroke-width:.95"/>
<path d="M683 205 C682.82 205.9 682.1 206.2 682.4 208 C682.7 209.8 682.02 209.62 684 211 C685.98 212.38 686 211.4 689 212.6 C692 213.8 690.85 213.74 694 215 C697.15 216.26 697.85 216.26 699.5 216.8" class="l" style="stroke-width:.95"/>
<path d="M685 212 C685.9 212.96 685.3 213.34 688 215.2 C690.7 217.06 689.8 217.3 694 218.2 C698.2 219.1 697.05 218.74 702 218.2 C706.95 217.66 707.95 216.94 710.5 216.4" class="l" style="stroke-width:.95"/>
<line x1="726" y1="192" x2="734.2" y2="219" class="t" style="stroke-width:.7"/>
<path d="M723 183 L727.91 192.5 L725.99 193.07 L724.07 193.63Z" class="fill"/>
<path d="M737.2 228.2 L732.29 218.7 L734.21 218.13 L736.13 217.57Z" class="fill"/>
</g>
<g id="p5">
<path d="M560.2 378.5 L586.9 355.6 L632.6 368.75 L632.6 374.6 L586.25 361.25 L560.6 381.6Z" class="wt" style="stroke-width:.95;stroke:#111"/>
<line x1="586.6" y1="355.6" x2="586.25" y2="361.25" class="t" style="stroke-width:.95;stroke:#111"/>
<path d="M553.5 387.5 L586.25 361.25 L639 376.5 L608.75 403Z" class="wt" style="stroke-width:.95;stroke:#111"/>
<path d="M470 523.3 L630.75 568.9 L631.1 573.75 L470 528.9Z" class="wt"/>
<path d="M470 528.9 L631.1 573.75 L631.5 577.9 L464.4 530.4Z" class="wt"/>
<line x1="467.2" y1="529.65" x2="631.3" y2="575.83" class="h"/>
<path d="M630.75 568.9 L722.7 489.6 L722.7 495.5 L631.1 573.75Z" class="wt"/>
<path d="M631.1 573.75 L722.7 495.5 L728.3 494.5 L631.5 577.9Z" class="wt"/>
<line x1="631.3" y1="575.83" x2="725.5" y2="495" class="h"/>
<path d="M503 571 L621.5 604.3 L621.5 609.5 L503 577Z" class="wt"/>
<path d="M503 577 L621.5 609.5 L621.5 614 L497.6 578Z" class="wt"/>
<line x1="500.3" y1="577.5" x2="621.5" y2="611.75" class="h"/>
<path d="M621.5 604.3 L688.4 547.2 L688.4 552 L621.5 609.5Z" class="wt"/>
<path d="M621.5 609.5 L688.4 552 L695 551 L621.5 614Z" class="wt"/>
<line x1="621.5" y1="611.75" x2="691.7" y2="551.5" class="h"/>
<path d="M536.4 619.6 L612.6 642.5 L614 646.5 L536.4 624Z" class="wt"/>
<path d="M536.4 624 L614 646.5 L614.5 650 L530.5 625.5Z" class="wt"/>
<line x1="533.45" y1="624.75" x2="614.25" y2="648.25" class="h"/>
<path d="M612.6 642.5 L655.4 603.8 L655.4 608.6 L614 646.5Z" class="wt"/>
<path d="M614 646.5 L655.4 608.6 L662.5 608.5 L614.5 650Z" class="wt"/>
<line x1="614.25" y1="648.25" x2="658.95" y2="608.55" class="h"/>
<line x1="576.25" y1="376.75" x2="515.9" y2="479.89" class="k" style="stroke-linecap:butt"/>
<ellipse cx="576.25" cy="376.75" rx="1.9" ry="1.15" class="fill"/>
<line x1="581.75" y1="378.25" x2="534.43" y2="541.03" class="k" style="stroke-linecap:butt"/>
<ellipse cx="581.75" cy="378.25" rx="1.9" ry="1.15" class="fill"/>
<line x1="586.75" y1="379.75" x2="549.5" y2="545.85" class="k" style="stroke-linecap:butt"/>
<ellipse cx="586.75" cy="379.75" rx="1.9" ry="1.15" class="fill"/>
<line x1="590.75" y1="387" x2="573.1" y2="630.63" class="k" style="stroke-linecap:butt"/>
<ellipse cx="590.75" cy="387" rx="1.9" ry="1.15" class="fill"/>
<line x1="587.5" y1="389.75" x2="559.98" y2="587.01" class="k" style="stroke-linecap:butt"/>
<ellipse cx="587.5" cy="389.75" rx="1.9" ry="1.15" class="fill"/>
<line x1="584.25" y1="392.25" x2="555.93" y2="599.99" class="k" style="stroke-linecap:butt"/>
<ellipse cx="584.25" cy="392.25" rx="1.9" ry="1.15" class="fill"/>
<line x1="601.75" y1="377.5" x2="619.43" y2="592.31" class="k" style="stroke-linecap:butt"/>
<ellipse cx="601.75" cy="377.5" rx="1.9" ry="1.15" class="fill"/>
<line x1="604.75" y1="375" x2="636.43" y2="620.95" class="k" style="stroke-linecap:butt"/>
<ellipse cx="604.75" cy="375" rx="1.9" ry="1.15" class="fill"/>
<line x1="607.75" y1="372.5" x2="678.05" y2="528.11" class="k" style="stroke-linecap:butt"/>
<ellipse cx="607.75" cy="372.5" rx="1.9" ry="1.15" class="fill"/>
<line x1="606" y1="385" x2="631.21" y2="528.51" class="k" style="stroke-linecap:butt"/>
<ellipse cx="606" cy="385" rx="1.9" ry="1.15" class="fill"/>
<line x1="610.75" y1="386.5" x2="657.52" y2="573.56" class="k" style="stroke-linecap:butt"/>
<ellipse cx="610.75" cy="386.5" rx="1.9" ry="1.15" class="fill"/>
<line x1="616.25" y1="388" x2="643.86" y2="465.61" class="k" style="stroke-linecap:butt"/>
<ellipse cx="616.25" cy="388" rx="1.9" ry="1.15" class="fill"/>
<path d="M561 440 L464.4 523.6 L464.4 530.4 L470 528.9 L562 448.6 L561 445.5Z" class="wt"/>
<line x1="561" y1="445.5" x2="464.4" y2="530.4" class="wt"/>
<line x1="561.45" y1="446.89" x2="466.92" y2="529.73" class="h"/>
<path d="M561 440 L728.3 488.3 L728.3 494.5 L722.7 495.5 L562 448.6 L561 445.5Z" class="wt"/>
<line x1="561" y1="445.5" x2="728.3" y2="492.7" class="wt"/>
<line x1="561.45" y1="446.89" x2="725.78" y2="493.96" class="h"/>
<line x1="561" y1="445.5" x2="562" y2="448.6" class="wt"/>
<path d="M570 509.25 L497.6 571 L497.6 578 L503 577 L571.25 516.8 L570 513.3Z" class="wt"/>
<line x1="570" y1="513.3" x2="497.6" y2="578" class="wt"/>
<line x1="570.56" y1="514.88" x2="500.03" y2="577.55" class="h"/>
<path d="M570 509.25 L695 544.75 L695 551 L688.4 552 L571.25 516.8 L570 513.3Z" class="wt"/>
<line x1="570" y1="513.3" x2="695" y2="549.7" class="wt"/>
<line x1="570.56" y1="514.88" x2="692.03" y2="550.74" class="h"/>
<line x1="570" y1="513.3" x2="571.25" y2="516.8" class="wt"/>
<path d="M579 578.5 L530.5 620 L530.5 625.5 L536.4 624 L579.75 586 L579 582.3Z" class="wt"/>
<line x1="579" y1="582.3" x2="530.5" y2="625.5" class="wt"/>
<line x1="579.34" y1="583.96" x2="533.15" y2="624.83" class="h"/>
<path d="M579 578.5 L662.5 603 L662.5 608.5 L655.4 608.6 L579.75 586 L579 582.3Z" class="wt"/>
<line x1="579" y1="582.3" x2="662.5" y2="607.2" class="wt"/>
<line x1="579.34" y1="583.96" x2="659.3" y2="607.83" class="h"/>
<line x1="579" y1="582.3" x2="579.75" y2="586" class="wt"/>
</g>
</svg>
</body></html>
